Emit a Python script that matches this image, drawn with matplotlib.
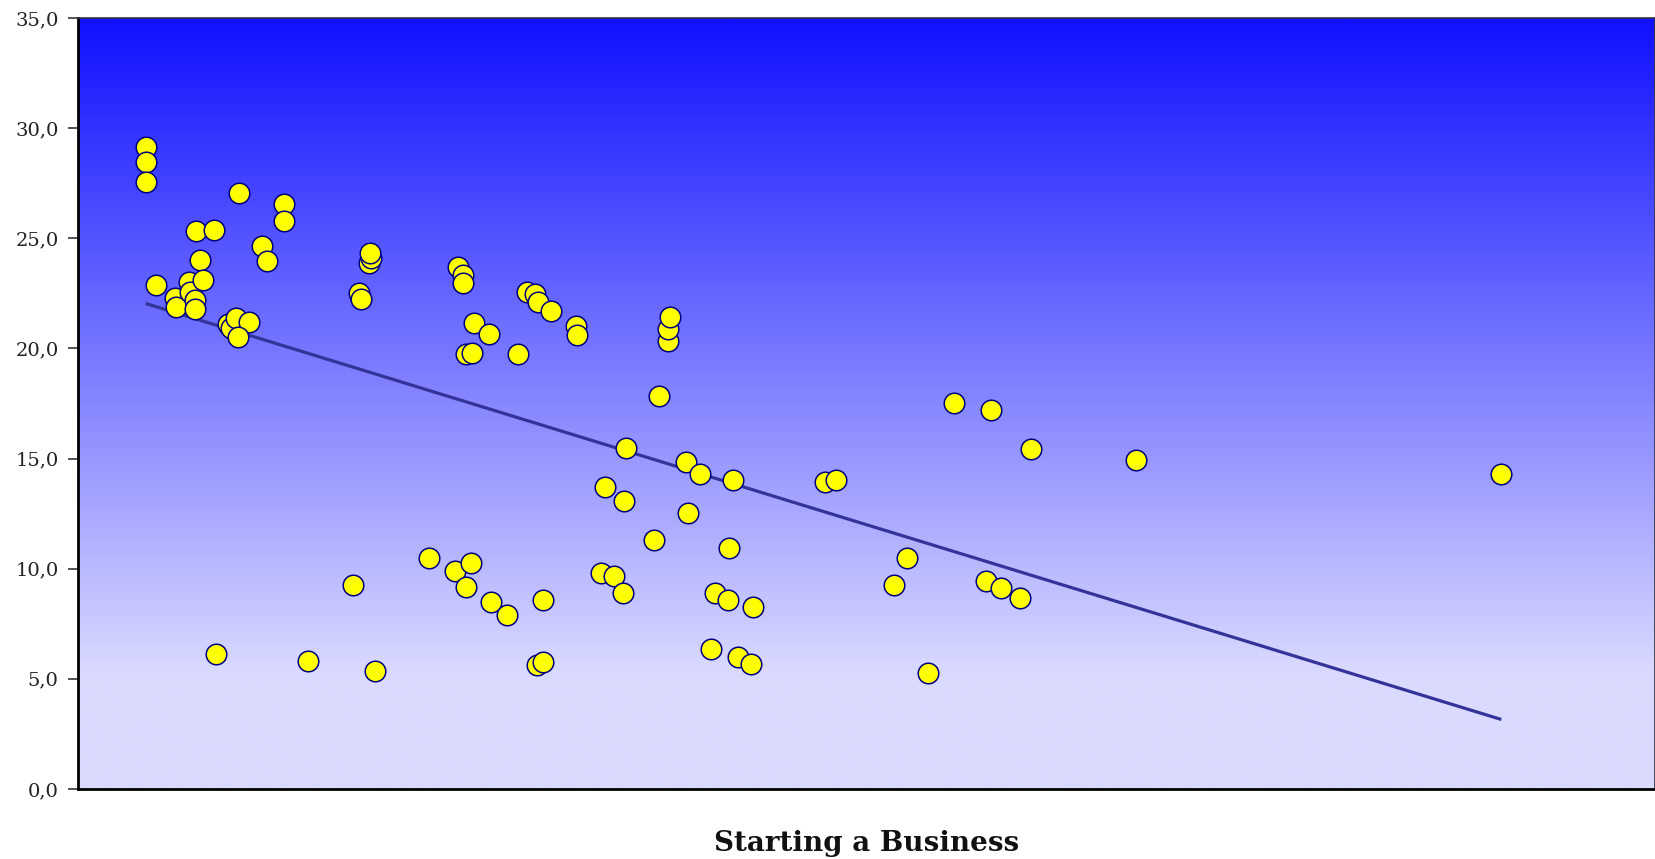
import numpy as np
import matplotlib
matplotlib.use("Agg")
import matplotlib.pyplot as plt

# Starting a Business score (x) versus the indicator on the y axis
start_business = [
    7.73, 7.73, 7.73, 8.90, 11.04, 11.19, 12.64, 12.78, 13.35, 13.35,
    13.50, 13.89, 14.23, 15.58, 15.79, 17.12, 17.46, 18.03, 19.55, 18.26,
    18.41, 20.95, 21.54, 23.55, 23.55, 26.29, 31.42, 32.04, 32.25, 33.25,
    33.41, 33.33, 33.93, 40.10, 43.00, 43.41, 43.91, 43.98, 44.86, 44.23,
    44.29, 44.94, 45.23, 46.95, 47.14, 48.97, 50.19, 51.22, 52.16, 52.54,
    52.43, 53.11, 53.11, 53.95, 56.84, 56.99, 59.70, 60.15, 61.18, 62.21,
    62.36, 62.55, 65.69, 66.32, 67.34, 67.38, 67.52, 69.40, 69.59, 71.00,
    72.28, 72.71, 74.14, 74.34, 74.76, 75.37, 76.85, 77.05, 85.26, 86.54,
    93.14, 94.59, 97.05, 99.95, 103.61, 104.25, 105.32, 107.56, 108.78, 120.76,
    162.46,
]
indicator = [
    29.14, 28.45, 27.54, 22.88, 22.28, 21.88, 23.03, 22.56, 22.18, 21.79,
    25.33, 24.02, 23.11, 25.38, 6.14, 21.11, 20.93, 21.37, 21.20, 20.54,
    27.07, 24.64, 23.99, 26.56, 25.77, 5.83, 9.27, 22.50, 22.25, 23.87,
    24.09, 24.32, 5.37, 10.49, 9.88, 23.71, 23.34, 22.99, 10.27, 9.19,
    19.74, 19.81, 21.17, 20.66, 8.51, 7.89, 19.74, 22.58, 22.47, 22.12,
    5.61, 5.76, 8.59, 21.72, 21.03, 20.61, 9.81, 13.70, 9.65, 8.88,
    13.07, 15.47, 11.32, 17.83, 20.33, 20.86, 21.44, 14.86, 12.55, 14.31,
    6.37, 8.88, 8.59, 10.96, 14.03, 6.00, 5.67, 8.27, 13.93, 14.03,
    9.27, 10.49, 5.26, 17.53, 9.44, 17.22, 9.12, 8.65, 15.45, 14.93,
    14.32,
]
y_ticks = [0, 5, 10, 15, 20, 25, 30, 35]
x_title = "Starting a Business"

x = np.array(start_business)
y = np.array(indicator)

fig = plt.figure(figsize=(16.56, 8.59), dpi=100)
ax = fig.add_axes([78 / 1656, 70 / 859, 1577 / 1656, 771 / 859])

ax.set_xlim(0, 180)
ax.set_ylim(0, 35)

# vertical blue-to-lavender background, fading over the upper part
t = np.linspace(0, 1, 512)
f = np.clip(t / 0.85, 0, 1)
top = np.array([16, 16, 255]) / 255
bottom = np.array([218, 218, 255]) / 255
cols = top[None, :] + (bottom - top)[None, :] * f[:, None]
grad = np.repeat(cols[:, None, :], 2, axis=1)
ax.imshow(grad, extent=[0, 1, 0, 1], transform=ax.transAxes,
          aspect="auto", origin="upper", zorder=0, interpolation="bilinear")

# least-squares trend line over the data range
slope, intercept = np.polyfit(x, y, 1)
xl = np.array([x.min(), x.max()])
ax.plot(xl, slope * xl + intercept, color="#333399", lw=2.3, zorder=2,
        solid_capstyle="butt")

ax.scatter(x, y, s=14.8 ** 2, facecolor="#FFFF00", edgecolor="#000080",
           linewidth=1.1, zorder=3)

serif = ["DejaVu Serif"]
ax.set_yticks(y_ticks)
ax.set_yticklabels([f"{v:.1f}".replace(".", ",") for v in y_ticks],
                   family=serif, fontsize=14, color="#222222")
ax.tick_params(axis="y", length=7, width=1.3, pad=7, direction="out",
               color="#444444")
ax.set_xticks([])

ax.set_xlabel(x_title, family=serif, fontsize=20, fontweight="bold",
              labelpad=29.5, color="#111111")

for side in ("left", "bottom"):
    ax.spines[side].set_linewidth(2.0)
    ax.spines[side].set_color("#000000")
for side in ("top", "right"):
    ax.spines[side].set_linewidth(1.2)
    ax.spines[side].set_color("#333344")

fig.savefig("out.png", dpi=100)
